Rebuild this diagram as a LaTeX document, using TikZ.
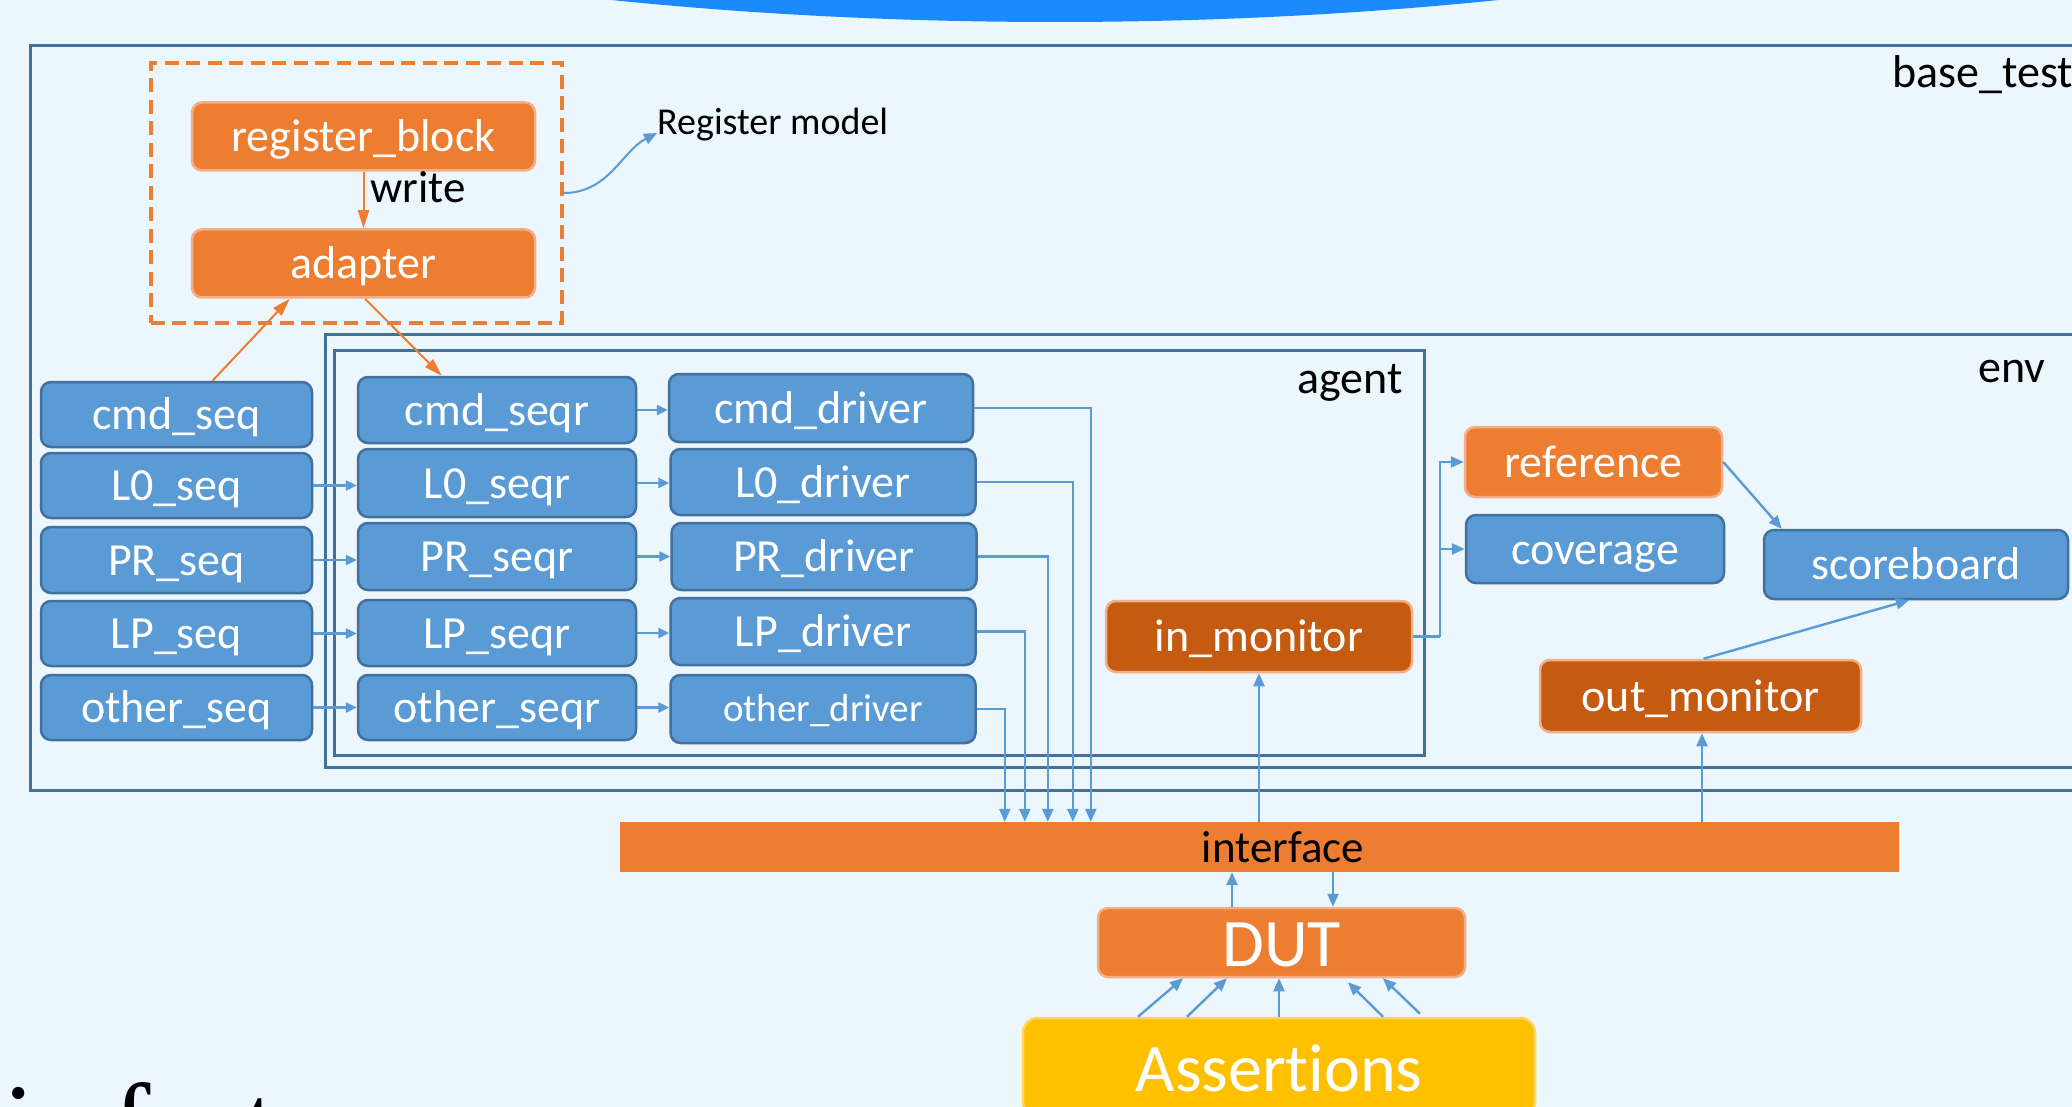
\documentclass[tikz,border=0pt]{standalone}
\usepackage{fontspec}
\setmainfont{Carlito}[Ligatures=NoCommon]
\newfontfamily\serifrag{Liberation Serif}
\usetikzlibrary{arrows.meta}
\definecolor{bg}{RGB}{236,246,253}
\definecolor{topblue}{RGB}{27,138,254}
\definecolor{boxblue}{RGB}{91,155,213}
\definecolor{boxbluedk}{RGB}{65,113,156}
\definecolor{boxorange}{RGB}{237,125,49}
\definecolor{boxorangelt}{RGB}{243,175,135}
\definecolor{boxdkor}{RGB}{197,90,17}
\definecolor{boxyellow}{RGB}{255,192,0}
\definecolor{boxyellowlt}{RGB}{255,214,90}
\definecolor{framecol}{RGB}{65,113,156}
\definecolor{cline}{RGB}{91,155,213}
\tikzset{
  sz/.style 2 args={minimum width=#1pt, minimum height=#2pt},
  fbox/.style={rounded corners=10pt, text=white, inner sep=0pt, line width=2.5pt,
    font=\fontsize{46}{50}\selectfont, text height=30pt, text depth=0pt},
  bluebox/.style={fbox, fill=boxblue, draw=boxbluedk},
  orbox/.style={fbox, fill=boxorange, draw=boxorangelt},
  dkbox/.style={fbox, fill=boxdkor, draw=boxorangelt},
  bigtext/.style={font=\fontsize{68}{72}\selectfont, text height=47pt},
  lbl/.style={inner sep=0pt, anchor=base west, text=black, font=\fontsize{46}{50}\selectfont},
  frm/.style={draw=framecol, line width=3pt},
  conn/.style={draw=cline, line width=2.4pt, -{Triangle[length=13pt,width=11pt]}},
  sconn/.style={draw=cline, line width=2.4pt, -{Triangle[length=11pt,width=10pt]}},
  oarrow/.style={draw=boxorange, line width=2pt, -{Triangle[length=18pt,width=11pt]}},
}
\begin{document}
\begin{tikzpicture}[x=1pt,y=-1pt]
\useasboundingbox (0,0) rectangle (2072,1107);
\clip (0,0) rectangle (2072,1107);
\fill[bg] (0,0) rectangle (2072,1107);
% top decorative shape
\fill[topblue] (1055,-473) ellipse [x radius=1500pt, y radius=495pt];

% frames
\draw[frm] (30,46) rectangle (2100,790);
\draw[frm] (325,334) rectangle (2100,767);
\draw[frm] (334,350) rectangle (1424,755);
\node[lbl] (lblbase) at (1892,88) {base\_test};
\node[lbl] (lblenv) at (1978,382) {env};
\node[lbl] (lblagent) at (1297,393) {agent};

% register model
\node[draw=boxorange, line width=4pt, dash pattern=on 14pt off 7.5pt, sz={411}{259.4}, inner sep=0pt] (regmodel) at (356.25,193) {};
\node[orbox, sz={343}{68}] (regblock) at (363.5,136.5) {register\_block};
\node[orbox, sz={343}{68}] (adapter) at (363.5,263.5) {adapter};
\node[lbl, font=\fontsize{45}{50}\selectfont] (writelbl) at (370,203) {write};
\node[lbl, font=\fontsize{38}{40}\selectfont] (rmlabel) at (657,135) {Register model};

% sequences
\node[bluebox, sz={271}{65}] (cmdseq) at (176.5,414.5) {cmd\_seq};
\node[bluebox, sz={271}{65}] (lzseq) at (176.5,485.5) {L0\_seq};
\node[bluebox, sz={271}{66}] (prseq) at (176.5,560) {PR\_seq};
\node[bluebox, sz={271}{65}] (lpseq) at (176.5,633.5) {LP\_seq};
\node[bluebox, sz={271}{65}] (otseq) at (176.5,707.5) {other\_seq};

% sequencers
\node[bluebox, sz={278}{66}] (cmdseqr) at (497,410) {cmd\_seqr};
\node[bluebox, sz={278}{68}] (lzseqr) at (497,483) {L0\_seqr};
\node[bluebox, sz={278}{67}] (prseqr) at (497,556.5) {PR\_seqr};
\node[bluebox, sz={278}{66}] (lpseqr) at (497,633) {LP\_seqr};
\node[bluebox, sz={278}{65}] (otseqr) at (497,707.5) {other\_seqr};

% drivers
\node[bluebox, sz={304}{68}] (cmddrv) at (821,408) {cmd\_driver};
\node[bluebox, sz={305}{66}] (lzdrv) at (823,482) {L0\_driver};
\node[bluebox, sz={305}{67}] (prdrv) at (824,556.5) {PR\_driver};
\node[bluebox, sz={305}{67}] (lpdrv) at (823,631.5) {LP\_driver};
\node[bluebox, sz={305}{68}, font=\fontsize{39}{42}\selectfont, text height=24pt] (otdrv) at (823,709) {other\_driver};

% right side
\node[orbox, sz={257}{70}] (reference) at (1593.5,462) {reference};
\node[bluebox, sz={258}{68}] (coverage) at (1595,549) {coverage};
\node[bluebox, sz={304}{69}] (scoreboard) at (1916,564.5) {scoreboard};
\node[dkbox, sz={306}{71}] (inmon) at (1259,636.5) {in\_monitor};
\node[dkbox, sz={321}{72}] (outmon) at (1700.5,696) {out\_monitor};

% interface, DUT, assertions
\node[fill=boxorange, sz={1279}{50}, inner sep=0pt] (interface) at (1259.5,847) {};
\node[lbl, font=\fontsize{45}{50}\selectfont, anchor=base] (iflbl) at (1283,862) {interface};
\node[orbox, bigtext, sz={367}{69}] (dut) at (1281.5,942.5) {DUT};
\node[fbox, bigtext, fill=boxyellow, draw=boxyellowlt, rounded corners=15pt, sz={512}{99}] (assert) at (1279,1067.5) {Assertions};

% fragment of text at bottom left
\node[inner sep=0pt, anchor=base west, font=\serifrag\fontsize{115}{120}\selectfont] (fragi) at (3,1163) {i};
\node[inner sep=0pt, anchor=base west, font=\serifrag\fontsize{115}{120}\selectfont] (fragf) at (112,1163) {f};
\node[inner sep=0pt, anchor=base west, font=\serifrag\fontsize{115}{120}\selectfont] (fragt) at (244,1163) {t};

% orange arrows
\draw[oarrow] (regblock.south) -- (adapter.north);
\draw[oarrow] ([xshift=36pt]cmdseq.north) -- ([xshift=99pt]adapter.south west);
\draw[oarrow] ([xshift=1.5pt]adapter.south) -- ([xshift=85pt]cmdseqr.north west);

% register model pointer
\draw[conn, line width=2pt] (regmodel.east) .. controls +(45,0) and +(-35,18) .. ([yshift=2pt]rmlabel.base west);

% seq -> seqr
\draw[sconn] (lzseq.east) -- (lzseq.east -| lzseqr.west);
\draw[sconn] (prseq.east) -- (prseq.east -| prseqr.west);
\draw[sconn] (lpseq.east) -- (lpseq.east -| lpseqr.west);
\draw[sconn] (otseq.east) -- (otseq.east -| otseqr.west);
% seqr -> driver
\draw[sconn] (cmdseqr.east) -- (cmdseqr.east -| cmddrv.west);
\draw[sconn] (lzseqr.east) -- (lzseqr.east -| lzdrv.west);
\draw[sconn] (prseqr.east) -- (prseqr.east -| prdrv.west);
\draw[sconn] (lpseqr.east) -- (lpseqr.east -| lpdrv.west);
\draw[sconn] (otseqr.east) -- (otseqr.east -| otdrv.west);

% drivers -> interface
\draw[conn] (cmddrv.east) -| ([xshift=471pt]interface.north west);
\draw[conn] (lzdrv.east) -| ([xshift=453pt]interface.north west);
\draw[conn] (prdrv.east) -| ([xshift=428pt]interface.north west);
\draw[conn] (lpdrv.east) -| ([xshift=405pt]interface.north west);
\draw[conn] (otdrv.east) -| ([xshift=385pt]interface.north west);

% monitors
\draw[conn] (inmon.south |- interface.north) -- (inmon.south);
\draw[conn] ([xshift=1.5pt]outmon.south |- interface.north) -- ([xshift=1.5pt]outmon.south);
\coordinate (jn) at ([xshift=27pt]inmon.east);
\draw[draw=cline, line width=2.4pt] (inmon.east) -- (jn);
\draw[conn] (jn) |- (reference.west);
\draw[conn] (jn) |- (coverage.west);
\draw[conn] (reference.east) -- ([xshift=19pt]scoreboard.north west);
\draw[conn] ([xshift=3pt]outmon.north) -- ([xshift=-7pt]scoreboard.south);

% interface <-> DUT
\draw[conn] ([xshift=-49.5pt]dut.north) -- ([xshift=-49.5pt]dut.north |- interface.south);
\draw[conn] ([xshift=51.5pt]dut.north |- interface.south) -- ([xshift=51.5pt]dut.north);

% assertions -> DUT
\draw[conn] ([xshift=-141pt]assert.north) -- ([xshift=-98.5pt]dut.south);
\draw[conn] ([xshift=-92pt]assert.north) -- ([xshift=-54.5pt]dut.south);
\draw[conn] (assert.north) -- ([xshift=-2.5pt]dut.south);
\draw[conn] ([xshift=104pt]assert.north) -- ([xshift=66.5pt,yshift=-4pt]dut.south);
\draw[conn] ([xshift=141pt,yshift=3pt]assert.north) -- ([xshift=101.5pt]dut.south);
\end{tikzpicture}
\end{document}
